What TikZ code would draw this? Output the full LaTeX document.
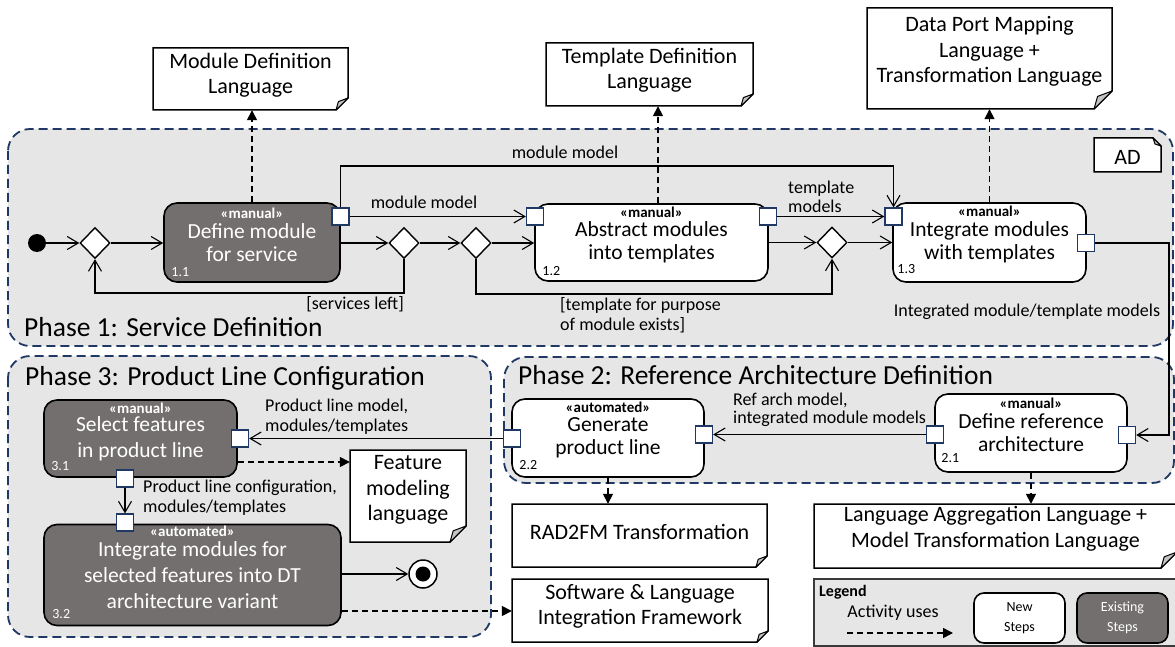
\documentclass[tikz,border=0pt]{standalone}
\usepackage{fontspec}
\setmainfont{Carlito}
\usetikzlibrary{arrows.meta,shapes.geometric,calc}

\definecolor{phasefill}{HTML}{E6E6E6}
\definecolor{phaseline}{HTML}{203864}
\definecolor{darkstep}{HTML}{736F6E}
\definecolor{foldgray}{HTML}{C4C4C4}
\definecolor{legendline}{HTML}{3A3A3A}

\tikzset{
  phase/.style={draw=phaseline, fill=phasefill, line width=1.8pt, dash pattern=on 9pt off 5pt, rounded corners=22pt},
  phasetitle/.style={anchor=base west, inner sep=0pt, font=\fontsize{27.5}{30}\selectfont},
  stepbox/.style={draw=black, line width=1.6pt, rounded corners=13pt, align=center, inner sep=0pt, font=\fontsize{21.5}{23}\selectfont},
  newstep/.style={stepbox, fill=white, text=black},
  oldstep/.style={stepbox, fill=darkstep, text=white},
  stereo/.style={font=\bfseries\fontsize{15}{17}\selectfont, inner sep=0pt},
  stepnum/.style={font=\fontsize{14}{16}\selectfont, inner sep=0pt, anchor=base west},
  pin/.style={draw=phaseline, fill=white, line width=1.3pt, minimum size=17pt, inner sep=0pt},
  decision/.style={diamond, draw=black, fill=white, line width=1.4pt, minimum width=30pt, minimum height=31pt, inner sep=0pt},
  flow/.style={draw=black, line width=1.1pt, -{Straight Barb[length=11pt,width=13pt]}},
  uses/.style={draw=black, line width=1.5pt, dash pattern=on 6pt off 4pt, -{Triangle[length=10pt,width=10pt]}},
  flowlabel/.style={font=\fontsize{18}{20}\selectfont, inner sep=0pt, align=left},
  noteline/.style={draw=black, fill=white, line width=1.5pt, line join=miter},
  foldline/.style={draw=black, fill=foldgray, line width=1pt, line join=round},
  noteframe/.style={draw=none, fill=none, inner sep=0pt},
  notetext/.style={font=\fontsize{22}{25.5}\selectfont, align=center, inner sep=0pt},
}

% note with a folded lower-right corner
% #1 name, #2 #3 upper-left corner, #4 #5 lower-right corner, #6 text centre y, #7 fold size, #8 text
\newcommand\notebox[8]{%
  \filldraw[noteline] (#2,#3) -- (#4,#3) -- (#4,{#5-#7}) -- ({#4-#7},#5) -- (#2,#5) -- cycle;
  \filldraw[foldline] ({#4-#7},#5) -- (#4,{#5-#7}) -- ({#4-0.8*#7},{#5-0.7*#7}) -- cycle;
  \node[noteframe, minimum width={(#4-#2)*1pt}, minimum height={(#5-#3)*1pt}] (#1) at ({(#2+#4)/2},{(#3+#5)/2}) {};
  \node[notetext] (#1-text) at ({(#2+#4)/2},#6) {#8};
}

\begin{document}
\begin{tikzpicture}[x=1pt,y=-1pt]
\useasboundingbox (0,0) rectangle (1175,647);

% ---------- phase containers ----------
\draw[phase] (8,129) rectangle (1173,346);
\draw[phase] (8,356) rectangle (491,637);
\draw[phase] (504,357) rectangle (1174,483);
\node[phasetitle] (ph1) at (24,336) {Phase 1: Service Definition};
\node[phasetitle] (ph3) at (25,385) {Phase 3: Product Line Configuration};
\node[phasetitle] (ph2) at (518,384) {Phase 2: Reference Architecture Definition};

% ---------- language / framework notes ----------
\notebox{mdl}{153}{48}{348}{110}{75.5}{12}{Module Definition\\Language}
\notebox{tdl}{546}{43}{753}{106}{70.5}{12}{Template Definition\\Language}
\notebox{dpm}{867}{8}{1112}{109}{51.5}{18}{Data Port Mapping\\Language +\\Transformation Language}
\notebox{fml}{350}{450}{466}{542}{490}{16}{Feature\\modeling\\language}
\notebox{rad}{512}{504}{767}{567}{532}{11}{RAD2FM Transformation}
\notebox{sw}{512}{579}{768}{642}{606.5}{11}{Software \& Language\\Integration Framework}
\notebox{lal}{814}{504}{1177}{568}{529}{16}{Language Aggregation Language +\\Model Transformation Language}

% diagram kind tag (fold at the upper right)
\filldraw[noteline] (1094,138) -- (1153,138) -- (1161,146) -- (1161,172) -- (1094,172) -- cycle;
\filldraw[foldline] (1153,138) -- (1161,146) -- (1155,144) -- cycle;
\node[noteframe, minimum width=67pt, minimum height=34pt] (ad) at (1127.5,155) {};
\node[notetext] (ad-text) at (1127.5,157) {AD};

% ---------- activity steps ----------
\node[oldstep, minimum width=176pt, minimum height=79pt] (b11) at (252,242.5) {Define module\\for service};
\node[stereo, text=white] (s11) at ([yshift=-11pt]b11.north) {«manual»};
\node[stepnum, text=white] (n11) at ([shift={(8pt,6.5pt)}]b11.south west) {1.1};

\node[newstep, minimum width=233pt, minimum height=77pt] (b12) at (651.5,242.5) {Abstract modules\\into templates};
\node[stereo] (s12) at ([yshift=-9pt]b12.north) {«manual»};
\node[stepnum] (n12) at ([shift={(8pt,6pt)}]b12.south west) {1.2};

\node[newstep, minimum width=193pt, minimum height=79pt] (b13) at (989.5,242.5) {Integrate modules\\with templates};
\node[stereo] (s13) at ([yshift=-9.5pt]b13.north) {«manual»};
\node[stepnum] (n13) at ([shift={(5pt,9pt)}]b13.south west) {1.3};

\node[newstep, minimum width=192pt, minimum height=78pt] (b21) at (1031,433) {Define reference\\architecture};
\node[stereo] (s21) at ([yshift=-10pt]b21.north) {«manual»};
\node[stepnum] (n21) at ([shift={(7pt,10pt)}]b21.south west) {2.1};

\node[newstep, minimum width=192pt, minimum height=78pt] (b22) at (608,438) {Generate\\product line};
\node[stereo] (s22) at ([yshift=-9.5pt]b22.north) {«automated»};
\node[stepnum] (n22) at ([shift={(8pt,8pt)}]b22.south west) {2.2};

\node[oldstep, minimum width=193pt, minimum height=77pt, font=\fontsize{21.5}{26}\selectfont] (b31) at (140.5,438.5) {Select features\\in product line};
\node[stereo, text=white] (s31) at ([yshift=-9pt]b31.north) {«manual»};
\node[stepnum, text=white] (n31) at ([shift={(8pt,7.5pt)}]b31.south west) {3.1};

\node[oldstep, minimum width=297pt, minimum height=101pt, font=\fontsize{21.5}{26}\selectfont] (b32) at (192.5,575) {Integrate modules for\\selected features into DT\\architecture variant};
\node[stereo, text=white] (s32) at ([yshift=-8pt]b32.north) {«automated»};
\node[stepnum, text=white] (n32) at ([shift={(9pt,7.5pt)}]b32.south west) {3.2};

% ---------- control nodes ----------
\node[circle, fill=black, minimum size=18pt, inner sep=0pt] (init) at (37,243) {};
\node[decision] (d1) at (95,243) {};
\node[decision] (d2) at (404,243) {};
\node[decision] (d3) at (476,243) {};
\node[decision] (d4) at (832,242.5) {};
\node[circle, draw=black, fill=white, line width=1.5pt, minimum size=28pt, inner sep=0pt] (final) at (423,574) {};
\node[circle, fill=black, minimum size=15pt, inner sep=0pt] (finaldot) at (final.center) {};

% ---------- pins ----------
\node[pin] (p11o) at (340.5,216.5) {};
\node[pin] (p12i) at (535,216.5) {};
\node[pin] (p12o) at (768,216.5) {};
\node[pin] (p13i) at (893.5,216.5) {};
\node[pin] (p13o) at (1086,243) {};
\node[pin] (p21r) at (1127,435) {};
\node[pin] (p21l) at (935,434.5) {};
\node[pin] (p22r) at (704,434.5) {};
\node[pin] (p22l) at (512,438.5) {};
\node[pin] (p31r) at (240,438.5) {};
\node[pin] (p31b) at (125,478.5) {};
\node[pin] (p32t) at (125,522.5) {};

% ---------- control flow ----------
\draw[flow] (init) -- (d1);
\draw[flow] (d1) -- (b11.west |- d1);
\draw[flow] (b11.east |- d2) -- (d2);
\draw[flow] (d2) -- (d3);
\draw[flow] (d3) -- (b12.west |- d3);
\draw[flow] (b12.east |- d4) -- (d4);
\draw[flow] (d4) -- (b13.west |- d4);
\coordinate (svcloop) at (250,293);
\draw[flow] (d2.south) |- (svcloop) -| (d1.south);
\coordinate (tplloop) at (650,294);
\draw[flow] (d3.south) |- (tplloop) -| (d4.south);
\draw[flow] (b32.east |- final) -- (final);

% ---------- object flow ----------
\draw[flow] (p11o) -- (p12i);
\coordinate (mmtop) at (600,166);
\draw[flow] (p11o.north) |- (mmtop) -| (p13i.north);
\draw[flow] (p12o) -- (p13i);
\coordinate (imtright) at (1169,340);
\draw[flow] (p13o.east) -| (imtright) |- (p21r.east);
\draw[flow] (p21l) -- (p22r);
\draw[flow] (p22l) -- (p31r);
\draw[flow] (p31b) -- (p32t);

% ---------- flow labels ----------
\node[flowlabel] (l-mm1) at (424,202) {module model};
\node[flowlabel] (l-mm2) at (565,152) {module model};
\node[flowlabel, anchor=west] (l-tm) at (788,196.5) {template\\[-1pt]models};
\node[flowlabel, anchor=east] (l-svc) at (404,304) {[services left]};
\node[flowlabel, anchor=west] (l-tpl) at (560,315) {[template for purpose\\of module exists]};
\node[flowlabel] (l-imt) at (1027,312) {Integrated module/template models};
\node[flowlabel, anchor=west] (l-ref) at (733,410) {Ref arch model,\\[-2pt]integrated module models};
\node[flowlabel, anchor=west] (l-plm) at (265,417) {Product line model,\\modules/templates};
\node[flowlabel, anchor=west] (l-plc) at (143,498) {Product line configuration,\\modules/templates};

% ---------- activity uses ----------
\draw[uses] (b11.north) -- (b11.north |- mdl.south);
\coordinate (tdlx) at (658,150);
\draw[uses] (b12.north -| tdlx) -- (tdl.south -| tdlx);
\draw[uses] (b13.north) -- (b13.north |- dpm.south);
\draw[uses] (b22.south) -- (b22.south |- rad.north);
\draw[uses] (b21.south) -- (b21.south |- lal.north);
\coordinate (fmly) at (300,462);
\draw[uses] (b31.east |- fmly) -- (fml.west |- fmly);
\coordinate (swy) at (400,611);
\draw[uses] (b32.east |- swy) -- (sw.west |- swy);

% ---------- legend ----------
\node[draw=legendline, fill=phasefill, line width=1.6pt, minimum width=370pt, minimum height=67pt, inner sep=0pt] (legend) at (999,612.5) {};
\node[font=\bfseries\fontsize{16}{18}\selectfont, anchor=base west, inner sep=0pt] (legend-title) at (819,596) {Legend};
\node[flowlabel] (legend-uses) at (893,613) {Activity uses};
\coordinate (lgfrom) at (847,633);
\coordinate (lgto) at (953,633);
\draw[uses] (lgfrom) -- (lgto);
\node[newstep, rounded corners=10pt, minimum width=91pt, minimum height=50pt, font=\fontsize{14}{20}\selectfont] (legend-new) at (1019.5,618) {New\\Steps};
\node[oldstep, rounded corners=10pt, minimum width=91pt, minimum height=50pt, font=\fontsize{14}{20}\selectfont] (legend-old) at (1122.5,618) {Existing\\Steps};
\end{tikzpicture}
\end{document}
